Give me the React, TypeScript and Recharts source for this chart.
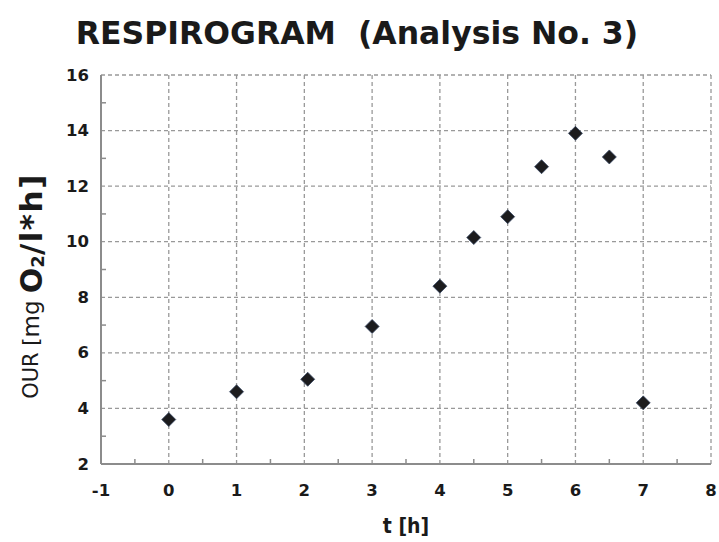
import React from "react";
import {
  ScatterChart,
  Scatter,
  XAxis,
  YAxis,
  CartesianGrid,
} from "recharts";

// ---- data ----
const timeHours: number[] = [0, 1, 2.05, 3, 4, 4.5, 5, 5.5, 6, 6.5, 7];
const ourValues: number[] = [3.6, 4.6, 5.05, 6.95, 8.4, 10.15, 10.9, 12.7, 13.9, 13.05, 4.2];

const xMajorTicks: number[] = [-1, 0, 1, 2, 3, 4, 5, 6, 7, 8];
const xAllTicks: number[] = [-1, -0.5, 0, 0.5, 1, 1.5, 2, 2.5, 3, 3.5, 4, 4.5, 5, 5.5, 6, 6.5, 7, 7.5, 8];
const yMajorTicks: number[] = [2, 4, 6, 8, 10, 12, 14, 16];
const yAllTicks: number[] = [2, 3, 4, 5, 6, 7, 8, 9, 10, 11, 12, 13, 14, 15, 16];

const chartTitle = "RESPIROGRAM\u00A0 (Analysis No. 3)";
const xTitle = "t [h]";

const points = timeHours.map((t, i) => ({ t, our: ourValues[i] }));

const W = 719;
const H = 542;
const TICK_FONT = "'DejaVu Sans', sans-serif";
const AXIS_COLOR = "#8c8c8c";
const MINOR = 5;
const X_MARGIN = 26;
const Y_MARGIN = 12;

const XTick = (props: any) => {
  const { x, y, payload } = props;
  const v = payload.value as number;
  const axisY = y - X_MARGIN;
  if (!Number.isInteger(v)) {
    return <line x1={x} x2={x} y1={axisY} y2={axisY - MINOR} stroke={AXIS_COLOR} strokeWidth={1.5} />;
  }
  return (
    <text x={x} y={y} textAnchor="middle" dominantBaseline="central" fontFamily={TICK_FONT} fontWeight="bold" fontSize={16.5} fill="#1a1a1a">
      {v}
    </text>
  );
};

const YTick = (props: any) => {
  const { x, y, payload } = props;
  const v = payload.value as number;
  const axisX = x + Y_MARGIN;
  if (v % 2 !== 0) {
    return <line x1={axisX} x2={axisX + MINOR} y1={y} y2={y} stroke={AXIS_COLOR} strokeWidth={1.5} />;
  }
  return (
    <text x={x} y={y} textAnchor="end" dominantBaseline="central" fontFamily={TICK_FONT} fontWeight="bold" fontSize={16.5} fill="#1a1a1a">
      {v}
    </text>
  );
};

const Diamond = (props: any) => {
  const { cx, cy } = props;
  const r = 7;
  return (
    <path
      d={`M${cx},${cy - r} L${cx + r},${cy} L${cx},${cy + r} L${cx - r},${cy} Z`}
      fill="#1c1c1e"
      stroke="#3a4a66"
      strokeWidth={0.8}
    />
  );
};

export default function App() {
  return (
    <div style={{ position: "absolute", left: 0, top: 0, width: W, height: H, background: "#fff" }}>
      <ScatterChart width={W} height={H} margin={{ top: 75, right: 8, bottom: 0, left: 0 }}>
        <CartesianGrid
          stroke="#999"
          strokeDasharray="4 3"
          strokeWidth={1.3}
          horizontalValues={yMajorTicks}
          verticalValues={xMajorTicks}
        />
        <XAxis
          type="number"
          dataKey="t"
          domain={[-1, 8]}
          ticks={xAllTicks}
          interval={0}
          height={78}
          tickSize={0}
          tickMargin={X_MARGIN}
          tickLine={false}
          axisLine={{ stroke: AXIS_COLOR, strokeWidth: 2 }}
          tick={<XTick />}
          allowDataOverflow
        />
        <YAxis
          type="number"
          dataKey="our"
          domain={[2, 16]}
          ticks={yAllTicks}
          interval={0}
          width={101}
          tickSize={0}
          tickMargin={Y_MARGIN}
          tickLine={false}
          axisLine={{ stroke: AXIS_COLOR, strokeWidth: 2 }}
          tick={<YTick />}
          allowDataOverflow
        />
        <Scatter data={points} shape={<Diamond />} isAnimationActive={false} />
        <text x={357} y={33} textAnchor="middle" dominantBaseline="central" fontFamily="'DejaVu Sans', sans-serif" fontWeight="bold" fontSize={31.5} fill="#1a1a1a">
          {chartTitle}
        </text>
        <text x={406} y={526} textAnchor="middle" dominantBaseline="central" fontFamily="'DejaVu Sans Condensed', 'DejaVu Sans', sans-serif" fontWeight="bold" fontSize={21} fill="#1a1a1a">
          {xTitle}
        </text>
        <text transform="translate(31,286) rotate(-90)" textAnchor="middle" dominantBaseline="central" fontFamily="'DejaVu Sans', sans-serif" fill="#1a1a1a">
          <tspan fontSize={21}>OUR [</tspan>
          <tspan fontSize={23}>mg </tspan>
          <tspan fontSize={30} fontWeight="bold">O</tspan>
          <tspan fontSize={18} fontWeight="bold" dy={6}>2</tspan>
          <tspan fontSize={31} fontWeight="bold" dy={-6} letterSpacing={1.5}>/l*h]</tspan>
        </text>
      </ScatterChart>
    </div>
  );
}
